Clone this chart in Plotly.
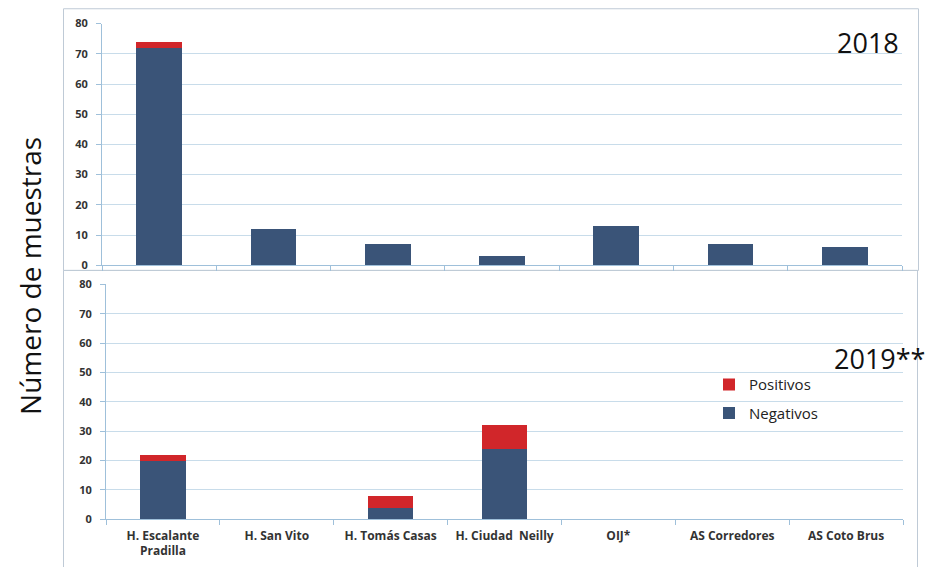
import plotly.graph_objects as go

W, H = 928, 567

categories = ["H. Escalante<br>Pradilla", "H. San Vito", "H. Tomás Casas", "H. Ciudad  Neilly",
              "OIJ*", "AS Corredores", "AS Coto Brus"]
neg_2018 = [72, 12, 7, 3, 13, 7, 6]
pos_2018 = [2, 0, 0, 0, 0, 0, 0]
neg_2019 = [20, 0, 4, 24, 0, 0, 0]
pos_2019 = [2, 0, 4, 8, 0, 0, 0]
y_ticks = [0, 10, 20, 30, 40, 50, 60, 70, 80]

NAVY = "#3A5478"
RED = "#D1262A"
GRID = "#C8DCEA"
AXIS = "#9FC0DA"
FRAME = "#BFCAD6"
TICKFONT = dict(family="Open Sans", size=11, color="#333333", weight="bold")
XTICKFONT = dict(family="Open Sans", size=12, color="#333333", weight="bold")


def px(x):
    return x / W


def py(y):
    # compensate the vertical offset/scale observed in the rendered screenshot
    yp = (y - 7.75) / 0.971
    return 1 - yp / H


fig = go.Figure()
fig.add_bar(x=categories, y=neg_2018, marker_color=NAVY, name="Negativos", xaxis="x", yaxis="y",
            showlegend=False, marker_line_width=0)
fig.add_bar(x=categories, y=pos_2018, marker_color=RED, name="Positivos", xaxis="x", yaxis="y",
            showlegend=False, marker_line_width=0)
fig.add_bar(x=categories, y=neg_2019, marker_color=NAVY, name="Negativos", xaxis="x2", yaxis="y2",
            legendgroup="neg", legendrank=2, marker_line_width=0)
fig.add_bar(x=categories, y=pos_2019, marker_color=RED, name="Positivos", xaxis="x2", yaxis="y2",
            legendgroup="pos", legendrank=1, marker_line_width=0)

xcommon = dict(type="category", showgrid=False, showline=True, linecolor=AXIS, linewidth=1,
               ticks="outside", tickson="boundaries", ticklen=5, tickcolor=AXIS,
               fixedrange=True, zeroline=False)
ycommon = dict(range=[0, 80], tickvals=y_ticks, showgrid=True, gridcolor=GRID, gridwidth=1,
               showline=True, linecolor=AXIS, linewidth=1, ticks="outside", ticklen=5,
               tickcolor=AXIS, tickfont=TICKFONT, zeroline=False, ticklabelstandoff=6)

fig.update_layout(
    width=W, height=H, margin=dict(l=0, r=0, t=0, b=0),
    paper_bgcolor="white", plot_bgcolor="white",
    barmode="stack", bargap=0.6,
    xaxis=dict(domain=[px(102), px(902)], anchor="y", showticklabels=False, tickfont=XTICKFONT, **xcommon),
    yaxis=dict(domain=[py(264.3), py(23.3)], anchor="x", **ycommon),
    xaxis2=dict(domain=[px(106), px(903)], anchor="y2", showticklabels=True, tickfont=XTICKFONT,
                ticklabelstandoff=5, **xcommon),
    yaxis2=dict(domain=[py(517.7), py(283.3)], anchor="x2", **ycommon),
    legend=dict(x=px(709), y=py(367), xanchor="left", yanchor="top", traceorder="grouped",
                tracegroupgap=6, font=dict(family="Open Sans", size=15, color="#222222"),
                bgcolor="rgba(0,0,0,0)"),
    showlegend=True,
    shapes=[
        dict(type="rect", xref="paper", yref="paper", x0=px(63.5), x1=px(918.5), y0=py(269.5), y1=py(8.5),
             line=dict(color=FRAME, width=1), layer="below"),
        dict(type="rect", xref="paper", yref="paper", x0=px(63.5), x1=px(917.5), y0=-0.05, y1=py(269.5),
             line=dict(color=FRAME, width=1), layer="below"),
    ],
    annotations=[
        dict(text="2018", xref="paper", yref="paper", x=px(901), y=py(42), xanchor="right", yanchor="middle",
             showarrow=False, font=dict(family="Open Sans", size=27, color="#111111")),
        dict(text="2019**", xref="paper", yref="paper", x=px(928), y=py(357), xanchor="right", yanchor="middle",
             showarrow=False, font=dict(family="Open Sans", size=27, color="#111111")),
        dict(text="Número de muestras", xref="paper", yref="paper", x=px(30), y=py(275), xanchor="center",
             yanchor="middle", textangle=-90, showarrow=False,
             font=dict(family="Open Sans", size=28, color="#111111")),
    ],
)

fig.write_html("out.html")
